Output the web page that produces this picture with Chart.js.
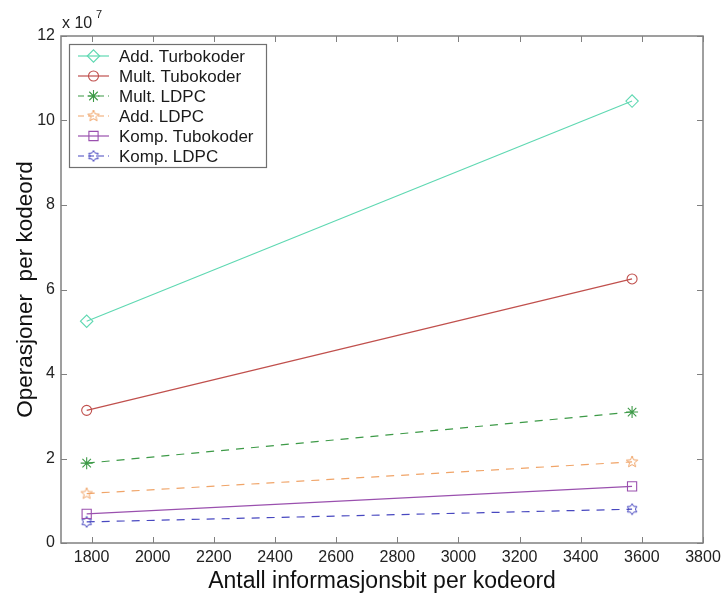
<!DOCTYPE html>
<html>
<head>
<meta charset="utf-8">
<script src="https://cdn.jsdelivr.net/npm/chart.js@4.4.1/dist/chart.umd.min.js"></script>
<style>
  html, body { margin: 0; background: #fff; }
  #wrap { width: 726px; height: 595px; }
</style>
</head>
<body>
<div id="wrap"><canvas id="myChart"></canvas></div>
<script>
// Antall informasjonsbit per kodeord
const bits = [1784, 3568];

// Operasjoner per kodeord
const addTurbo  = [5.25e7, 10.46e7];
const multTurbo = [3.14e7, 6.25e7];
const multLdpc  = [1.89e7, 3.10e7];
const addLdpc   = [1.17e7, 1.92e7];
const kompTurbo = [0.69e7, 1.34e7];
const kompLdpc  = [0.50e7, 0.80e7];

const xTicks = [1800, 2000, 2200, 2400, 2600, 2800, 3000, 3200, 3400, 3600, 3800];
const yTicks = [0, 2, 4, 6, 8, 10, 12];

const FONT = '"Liberation Sans", Arial, sans-serif';

// Pentagram og heksagram finnes ikke som pointStyle, så de tegnes på egne små lerret
function starCanvas(color, spikes, rOut, rIn, rot) {
  const c = document.createElement('canvas');
  c.width = 14; c.height = 14;
  const g = c.getContext('2d');
  g.strokeStyle = color;
  g.lineWidth = 1;
  g.beginPath();
  for (let i = 0; i < spikes * 2; i++) {
    const r = i % 2 === 0 ? rOut : rIn;
    const a = rot + i * Math.PI / spikes;
    const x = 7 + r * Math.sin(a);
    const y = 7 - r * Math.cos(a);
    if (i === 0) g.moveTo(x, y); else g.lineTo(x, y);
  }
  g.closePath();
  g.stroke();
  return c;
}

function serie(label, data, color, style, dash, radius) {
  return {
    label: label,
    data: data.map((v, i) => ({ x: bits[i], y: v })),
    borderColor: color,
    backgroundColor: 'rgba(0,0,0,0)',
    borderWidth: 1.2,
    borderDash: dash,
    pointStyle: style,
    pointRadius: radius,
    pointBorderColor: color,
    pointBackgroundColor: 'rgba(0,0,0,0)',
    pointBorderWidth: 1.1,
    tension: 0
  };
}

const datasets = [
  serie('Add. Turbokoder',  addTurbo,  '#5fd8b2', 'rectRot', [], 6.2),
  serie('Mult. Tubokoder',  multTurbo, '#c0504d', 'circle',  [], 5),
  serie('Mult. LDPC',       multLdpc,  '#3d9a47', 'star',    [8, 7], 6),
  serie('Add. LDPC',        addLdpc,   '#f0a468', starCanvas('#f0a468', 5, 6, 2.6, 0), [8, 7], 6),
  serie('Komp. Tubokoder',  kompTurbo, '#9a50ae', 'rect',    [], 6.5),
  serie('Komp. LDPC',       kompLdpc,  '#4848c0', starCanvas('#4848c0', 6, 5.5, 3.3, 0), [8, 7], 6)
];

// Ramme, innvendige tikkmerker, eksponent og forklaring
const rammePlugin = {
  id: 'ramme',
  afterDraw(chart) {
    const { ctx, chartArea: a, scales } = chart;
    ctx.save();
    ctx.strokeStyle = '#808080';
    ctx.lineWidth = 1.5;
    ctx.strokeRect(a.left, a.top, a.right - a.left, a.bottom - a.top);
    ctx.lineWidth = 1;
    ctx.beginPath();
    xTicks.forEach(t => {
      const x = Math.round(scales.x.getPixelForValue(t)) + 0.5;
      ctx.moveTo(x, a.bottom); ctx.lineTo(x, a.bottom - 6);
      ctx.moveTo(x, a.top); ctx.lineTo(x, a.top + 6);
    });
    yTicks.forEach(t => {
      const y = Math.round(scales.y.getPixelForValue(t * 1e7)) + 0.5;
      ctx.moveTo(a.left, y); ctx.lineTo(a.left + 6, y);
      ctx.moveTo(a.right, y); ctx.lineTo(a.right - 6, y);
    });
    ctx.stroke();

    // x 10^7
    ctx.fillStyle = '#222';
    ctx.font = '16px ' + FONT;
    ctx.textBaseline = 'alphabetic';
    ctx.textAlign = 'left';
    ctx.fillText('x 10', a.left + 1, a.top - 8);
    ctx.font = '11px ' + FONT;
    ctx.fillText('7', a.left + 35, a.top - 18);

    // forklaring
    const bx = 69, by = 44, bw = 197, bh = 123;
    ctx.fillStyle = '#fff';
    ctx.fillRect(bx, by, bw, bh);
    ctx.strokeStyle = '#707070';
    ctx.lineWidth = 1.2;
    ctx.strokeRect(bx + 0.5, by + 0.5, bw, bh);
    chart.data.datasets.forEach((ds, i) => {
      const y = 56 + i * 20;
      ctx.strokeStyle = ds.borderColor;
      ctx.lineWidth = 1.2;
      ctx.setLineDash(ds.borderDash.length ? [6, 4] : []);
      ctx.beginPath();
      ctx.moveTo(78, y); ctx.lineTo(109, y);
      ctx.stroke();
      ctx.setLineDash([]);
      ctx.lineWidth = 1.1;
      ctx.fillStyle = 'rgba(0,0,0,0)';
      Chart.helpers.drawPoint(ctx, {
        pointStyle: ds.pointStyle, radius: ds.pointRadius, rotation: 0, borderWidth: 1.1
      }, 93.5, y);
      ctx.fillStyle = '#1a1a1a';
      ctx.font = '17px ' + FONT;
      ctx.textBaseline = 'middle';
      ctx.fillText(ds.label, 119, y + 1);
    });
    ctx.restore();
  }
};

new Chart(document.getElementById('myChart'), {
  type: 'line',
  data: { datasets: datasets },
  plugins: [rammePlugin],
  options: {
    responsive: true,
    maintainAspectRatio: false,
    animation: false,
    layout: { padding: { top: 36, right: 23, left: 0, bottom: 0 } },
    plugins: { legend: { display: false }, tooltip: { enabled: false } },
    scales: {
      x: {
        type: 'linear',
        min: 1700,
        max: 3800,
        afterBuildTicks: s => { s.ticks = xTicks.map(v => ({ value: v })); },
        afterFit: s => { s.height = 52; },
        grid: { display: false, drawTicks: false },
        border: { display: false },
        ticks: { color: '#222', font: { family: FONT, size: 16 }, padding: 5, maxRotation: 0,
                 callback: v => String(v) },
        title: { display: true, text: 'Antall informasjonsbit per kodeord', color: '#111',
                 font: { family: FONT, size: 23 }, padding: { top: 0, bottom: 0 } }
      },
      y: {
        min: 0,
        max: 12e7,
        afterBuildTicks: s => { s.ticks = yTicks.map(v => ({ value: v * 1e7 })); },
        afterFit: s => { s.width = 61; },
        grid: { display: false, drawTicks: false },
        border: { display: false },
        ticks: { color: '#222', font: { family: FONT, size: 16 }, padding: 6,
                 callback: v => String(Math.round(v / 1e7)) },
        title: { display: true, text: 'Operasjoner  per kodeord', color: '#111',
                 font: { family: FONT, size: 22.5 }, padding: { top: 12, bottom: 0 } }
      }
    }
  }
});
</script>
</body>
</html>
